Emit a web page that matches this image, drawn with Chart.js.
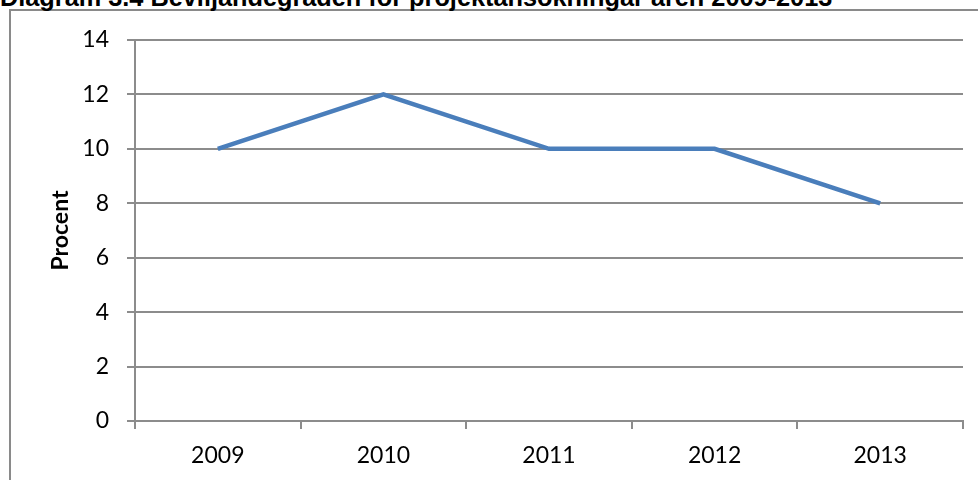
<!DOCTYPE html>
<html>
<head>
<meta charset="utf-8">
<script src="https://cdn.jsdelivr.net/npm/chart.js@4"></script>
<style>
  html, body { margin: 0; padding: 0; background: #fff; overflow: hidden; }
  #wrap { position: relative; width: 978px; height: 480px; overflow: hidden; }
  #frame { position: absolute; left: 9px; top: 9px; width: 1000px; height: 500px; border: 2px solid #8a8a8a; box-sizing: border-box; }
  #title { position: absolute; left: 0px; top: -17px; font: bold 25.3px "Liberation Sans", Arial, sans-serif; color: #000; white-space: nowrap; }
  #chart { position: absolute; left: 0; top: 0; }
</style>
</head>
<body>
<div id="wrap">
  <div id="frame"></div>
  <div id="title">Diagram 3.4 Beviljandegraden för projektansökningar åren 2009-2013</div>
  <canvas id="chart" width="978" height="480"></canvas>
</div>
<script>
const years = ["2009", "2010", "2011", "2012", "2013"];
const beviljandegrad = [10, 12, 10, 10, 8];
const yTicks = [0, 2, 4, 6, 8, 10, 12, 14];

const gridColor = "#8c8c8c";
const tickFont = { family: "Lato, 'Open Sans', sans-serif", size: 23 };

const ctx = document.getElementById("chart");
new Chart(ctx, {
  type: "line",
  data: {
    labels: years,
    datasets: [
      {
        label: "Beviljandegrad",
        data: beviljandegrad,
        borderColor: "#4a7ebb",
        borderWidth: 4.5,
        pointRadius: 0,
        tension: 0,
        fill: false,
      },
    ],
  },
  options: {
    responsive: false,
    animation: false,
    layout: { padding: { top: 40, right: 15, bottom: 0, left: 0 } },
    plugins: { legend: { display: false }, tooltip: { enabled: false } },
    scales: {
      x: {
        offset: true,
        grid: {
          offset: true,
          drawOnChartArea: false,
          drawTicks: true,
          tickLength: 8,
          color: gridColor,
          lineWidth: 2,
        },
        border: { color: gridColor, width: 2 },
        ticks: { color: "#000", font: tickFont, padding: 13, maxRotation: 0 },
        afterFit: (scale) => { scale.height = 59; },
      },
      y: {
        min: 0,
        max: 14,
        afterBuildTicks: (scale) => { scale.ticks = yTicks.map((v) => ({ value: v })); },
        grid: { color: gridColor, lineWidth: 2, tickLength: 8 },
        border: { color: gridColor, width: 2 },
        ticks: { color: "#000", font: tickFont, padding: 18 },
        title: {
          display: true,
          text: "Procent",
          color: "#000",
          font: { family: "Lato, 'Open Sans', sans-serif", size: 23, weight: "bold" },
          padding: { top: 47, bottom: 0 },
        },
        afterFit: (scale) => { scale.width = 135; },
      },
    },
  },
});
</script>
</body>
</html>
